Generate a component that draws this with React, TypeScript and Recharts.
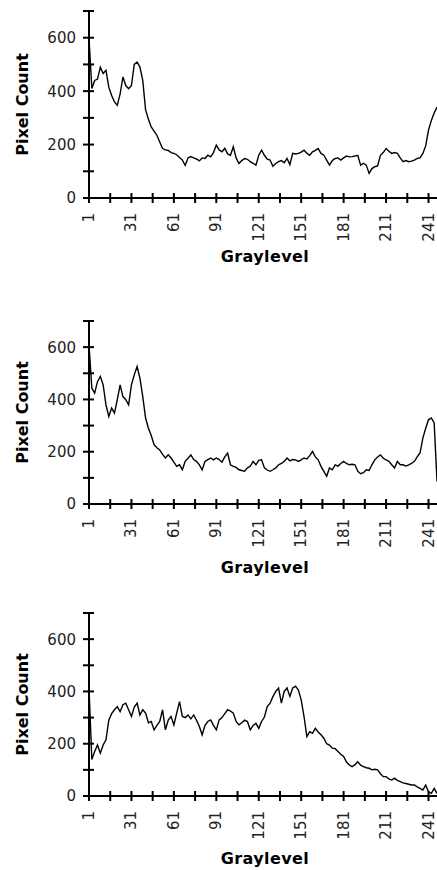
import { LineChart, Line, XAxis, YAxis } from "recharts";

// pixel counts per graylevel, read every 2nd level (1, 3, 5, ... 247)
const gray1 = [
  600, 410, 440, 445, 490, 466, 478, 415, 384, 360,
  347, 390, 453, 421, 409, 421, 500, 509, 490, 440,
  330, 295, 266, 250, 235, 210, 185, 180, 178, 170,
  167, 162, 152, 142, 122, 150, 155, 150, 146, 139,
  150, 148, 160, 154, 170, 198, 180, 173, 186, 165,
  160, 192, 150, 129, 140, 148, 145, 136, 130, 123,
  160, 179, 160, 145, 142, 119, 129, 136, 140, 132,
  148, 125, 167, 165, 167, 172, 179, 168, 160, 173,
  178, 185, 167, 160, 142, 123, 140, 148, 150, 142,
  150, 157, 154, 155, 157, 160, 123, 130, 123, 92,
  110, 117, 120, 160, 170, 185, 175, 167, 170, 167,
  150, 136, 140, 136, 138, 142, 148, 150, 167, 195,
  254, 290, 318, 340,
];

const gray2 = [
  609, 443, 424, 468, 488, 456, 379, 335, 367, 348,
  399, 456, 411, 399, 379, 456, 494, 526, 481, 411,
  329, 290, 262, 227, 215, 207, 190, 176, 188, 176,
  160, 144, 150, 131, 163, 175, 188, 170, 163, 150,
  131, 163, 170, 176, 169, 176, 170, 160, 180, 195,
  150, 144, 140, 131, 128, 125, 138, 144, 163, 150,
  167, 169, 138, 130, 125, 131, 138, 150, 155, 163,
  176, 165, 170, 169, 163, 169, 176, 172, 185, 201,
  180, 169, 144, 125, 106, 138, 131, 150, 145, 155,
  163, 155, 150, 152, 150, 125, 116, 120, 131, 128,
  150, 169, 180, 188, 175, 169, 163, 150, 138, 163,
  150, 150, 145, 150, 155, 163, 180, 195, 252, 290,
  322, 329, 310, 86,
];

const gray3 = [
  413, 140, 170, 195, 164, 195, 215, 290, 315, 330,
  342, 323, 349, 355, 330, 304, 340, 355, 310, 330,
  317, 280, 285, 253, 270, 285, 330, 253, 290, 304,
  272, 317, 361, 304, 300, 310, 295, 310, 290, 266,
  234, 270, 285, 291, 270, 253, 291, 300, 315, 330,
  325, 317, 285, 272, 280, 290, 285, 253, 270, 278,
  259, 285, 302, 342, 355, 380, 400, 413, 355, 400,
  413, 381, 413, 420, 405, 368, 304, 227, 246, 240,
  259, 245, 234, 221, 200, 195, 183, 181, 170, 160,
  151, 130, 119, 112, 120, 131, 118, 112, 108, 106,
  100, 102, 100, 85, 74, 74, 65, 61, 68, 60,
  55, 50, 48, 45, 42, 42, 35, 29, 23, 42,
  16, 10, 29, 10,
];

const xTicks = [1, 16, 31, 46, 61, 76, 91, 106, 121, 136, 151, 166, 181, 196, 211, 226, 241];
const xLabels = [1, 31, 61, 91, 121, 151, 181, 211, 241];
const yTicks = [0, 100, 200, 300, 400, 500, 600, 700];
const yLabels = [0, 200, 400, 600];

const FONT = "'DejaVu Sans', Verdana, sans-serif";

function XTick({ x, y, payload }: any) {
  const v = payload.value;
  const tx = x + 5;
  const ty = y + 15;
  return (
    <g>
      <line x1={x} x2={x} y1={y - 5} y2={y + 5} stroke="#000" strokeWidth={2} />
      {xLabels.includes(v) && (
        <text
          x={tx}
          y={ty}
          transform={`rotate(-90 ${tx} ${ty})`}
          textAnchor="end"
          fontSize={15}
          fontFamily={FONT}
          fill="#222"
        >
          {v}
        </text>
      )}
    </g>
  );
}

function YTick({ x, y, payload }: any) {
  const v = payload.value;
  return (
    <g>
      <line x1={x - 6} x2={x + 5} y1={y} y2={y} stroke="#000" strokeWidth={2} />
      {yLabels.includes(v) && (
        <text x={x - 13} y={y} dy="0.36em" textAnchor="end" fontSize={15} fontFamily={FONT} fill="#222">
          {v}
        </text>
      )}
    </g>
  );
}

interface HistProps {
  values: number[];
  top: number;
  plotTop: number;
  plotHeight: number;
  titleDy: number;
}

function Histogram({ values, top, plotTop, plotHeight, titleDy }: HistProps) {
  const data = values.map((count, i) => ({ level: 1 + 2 * i, count }));
  const height = plotTop + plotHeight + 74;
  return (
    <div style={{ position: "absolute", left: 0, top, width: 437, height }}>
      <LineChart
        width={437}
        height={height}
        data={data}
        margin={{ top: plotTop, right: 0, bottom: 0, left: 0 }}
      >
        <XAxis
          type="number"
          dataKey="level"
          domain={[1, 247]}
          ticks={xTicks}
          interval={0}
          tick={<XTick />}
          tickLine={false}
          tickSize={0}
          tickMargin={0}
          height={74}
          axisLine={{ stroke: "#000", strokeWidth: 2 }}
          label={(p: any) => {
            const vb = p.viewBox;
            return (
              <text
                x={vb.x + vb.width / 2 + 2}
                y={vb.y + titleDy}
                textAnchor="middle"
                fontSize={16}
                fontWeight="bold"
                letterSpacing={0.4}
                fontFamily={FONT}
                fill="#000"
              >
                Graylevel
              </text>
            );
          }}
        />
        <YAxis
          type="number"
          domain={[0, 700]}
          ticks={yTicks}
          interval={0}
          width={89}
          tick={<YTick />}
          tickLine={false}
          tickSize={0}
          tickMargin={0}
          axisLine={{ stroke: "#000", strokeWidth: 2 }}
          label={(p: any) => {
            const vb = p.viewBox;
            const cx = 28;
            const cy = vb.y + vb.height / 2;
            return (
              <text
                x={cx}
                y={cy}
                transform={`rotate(-90 ${cx} ${cy})`}
                textAnchor="middle"
                fontSize={16}
                fontWeight="bold"
                fontFamily={FONT}
                fill="#000"
              >
                Pixel Count
              </text>
            );
          }}
        />
        <Line
          dataKey="count"
          type="linear"
          stroke="#000"
          strokeWidth={1.4}
          dot={false}
          isAnimationActive={false}
        />
      </LineChart>
    </div>
  );
}

export default function App() {
  return (
    <div style={{ position: "absolute", left: 0, top: 0, width: 437, height: 870, background: "#fff", overflow: "hidden" }}>
      <Histogram values={gray1} top={0} plotTop={11} plotHeight={187} titleDy={64} />
      <Histogram values={gray2} top={290} plotTop={31} plotHeight={183} titleDy={69} />
      <Histogram values={gray3} top={580} plotTop={33} plotHeight={183} titleDy={68} />
    </div>
  );
}
